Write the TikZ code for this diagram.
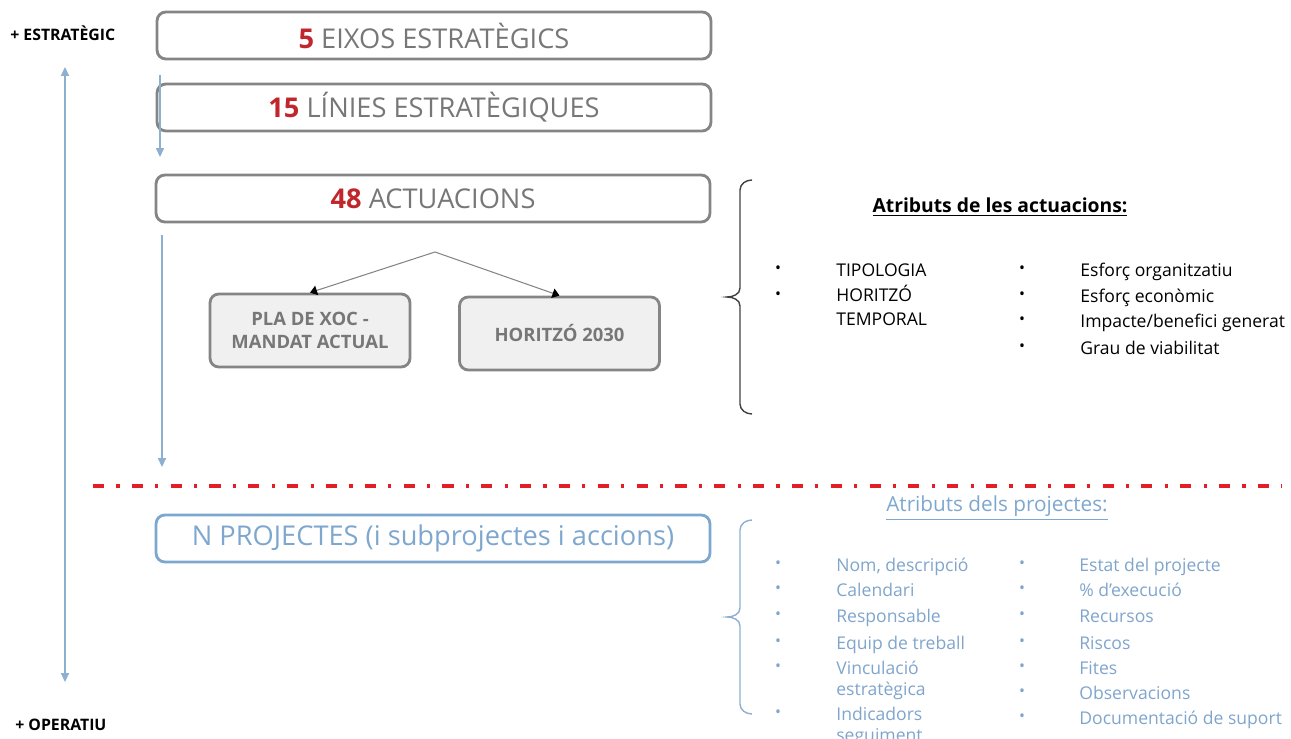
\documentclass[tikz,border=0pt]{standalone}
\usepackage{fontspec}
\setmainfont{Open Sans}
\usetikzlibrary{arrows.meta,positioning}
\definecolor{boxgray}{HTML}{858585}
\definecolor{txtgray}{HTML}{777777}
\definecolor{numred}{HTML}{C0272D}
\definecolor{dashred}{HTML}{E31E24}
\definecolor{projblue}{HTML}{7EA7CF}
\definecolor{listblue}{HTML}{7FA5CC}
\definecolor{arrblue}{HTML}{8DAFD0}
\tikzset{blueline/.style={draw=arrblue, line width=0.9pt, -{Triangle[length=5pt,width=4.5pt]}}}

\begin{document}
\begin{tikzpicture}[x=0.02cm, y=-0.02cm,
 lvl/.style={draw=boxgray, line width=1.6pt, rounded corners=5pt, minimum width=11.08cm, minimum height=0.94cm, text=txtgray, font=\fontsize{15.5}{17}\selectfont},
 sub/.style={draw=boxgray, line width=1.6pt, fill=gray!12, rounded corners=5pt, minimum width=4cm, minimum height=1.46cm, align=center, text=txtgray, font=\bfseries\fontsize{10.5}{13}\selectfont},
 attr/.style={anchor=west, inner sep=0pt, text height=1.8ex, text depth=0.4ex, font=\fontsize{10}{11}\selectfont},
 dot/.style={inner sep=0pt, font=\fontsize{9}{9}\selectfont},
 side/.style={anchor=west, inner sep=0pt, font=\bfseries\fontsize{9}{10}\selectfont}]
 \useasboundingbox (0,0) rectangle (1291,739);

 % levels
 \node[side] (est) at (10,33) {+ ESTRATÈGIC};
 \node[side] (op) at (15,725) {+ OPERATIU};
 \node[lvl] (eix) at (434,35.5) {\textcolor{numred}{\bfseries 5} EIXOS ESTRATÈGICS};
 \node[lvl] (lin) at (434,107.5) {\textcolor{numred}{\bfseries 15} LÍNIES ESTRATÈGIQUES};
 \node[lvl] (act) at (433,198.5) {\textcolor{numred}{\bfseries 48} ACTUACIONS};
 \node[sub] (pla) at (310,330.5) {PLA DE XOC -\\MANDAT ACTUAL};
 \node[sub] (hor) at (559.5,333.5) {HORITZÓ 2030};
 \node[lvl, draw=projblue, text=projblue] (np) at (433,538.5) {N PROJECTES (i subprojectes i accions)};

 % split of the actuacions
 \coordinate (split) at (435,252);
 \draw[boxgray, line width=0.6pt, -{Triangle[length=4pt,width=5.5pt]}, arrows={[black]}] (split) -- (pla.north);
 \draw[boxgray, line width=0.6pt, -{Triangle[length=4pt,width=5.5pt]}, arrows={[black]}] (split) -- (hor.north);

 % blue arrows
 \coordinate (up) at (65,67);
 \coordinate (down) at (65,682);
 \draw[blueline, {Triangle[length=5pt,width=4.5pt]}-{Triangle[length=5pt,width=4.5pt]}] (up) -- (down);
 \coordinate (s1) at (160,75);
 \coordinate (e1) at (160,157);
 \draw[blueline] (s1) -- (e1);
 \coordinate (s2) at (162,235);
 \coordinate (e2) at (162,467);
 \draw[blueline] (s2) -- (e2);

 % strategic / operational border
 \coordinate (r1) at (93,486);
 \coordinate (r2) at (1282,486);
 \draw[dashred, line width=2.2pt, dash pattern=on 6.3pt off 7pt on 1.8pt off 7pt] (r1) -- (r2);

 % braces
 \draw[black!75, line width=0.8pt] (752,180) to[out=180,in=90] (740,190) -- (740,288) to[out=-90,in=0] (727,297)
   to[out=0,in=90] (740,306) -- (740,404) to[out=-90,in=180] (752,414);
 \draw[arrblue, line width=0.8pt] (752,520) to[out=180,in=90] (740,530) -- (740,608) to[out=-90,in=0] (727,617)
   to[out=0,in=90] (740,626) -- (740,704) to[out=-90,in=180] (752,714);

 % attributes of the actuacions
 \node[font=\bfseries\fontsize{11}{12}\selectfont] (t1) at (1000,207) {\underline{Atributs de les actuacions:}};
 \node[dot] at (778,270) {\textbullet};
 \node[dot] at (778,296) {\textbullet};
 \node[attr] (a1) at (836,270) {TIPOLOGIA};
 \node[attr] (a2) at (836,295) {HORITZÓ};
 \node[attr] (a3) at (836,319) {TEMPORAL};
 \node[dot] at (1022,270) {\textbullet};
 \node[dot] at (1022,296) {\textbullet};
 \node[dot] at (1022,321) {\textbullet};
 \node[dot] at (1022,348) {\textbullet};
 \node[attr] (b1) at (1080,270) {Esforç organitzatiu};
 \node[attr] (b2) at (1080,296) {Esforç econòmic};
 \node[attr] (b3) at (1080,321) {Impacte/benefici generat};
 \node[attr] (b4) at (1080,348) {Grau de viabilitat};

 % attributes of the projectes
 \node[text=projblue, font=\fontsize{11.8}{13}\selectfont] (t2) at (997,508) {\underline{Atributs dels projectes:}};
 \begin{scope}[every node/.append style={text=listblue}]
 \node[dot] at (778,565) {\textbullet};
 \node[dot] at (778,590) {\textbullet};
 \node[dot] at (778,616) {\textbullet};
 \node[dot] at (778,643) {\textbullet};
 \node[dot] at (778,668) {\textbullet};
 \node[dot] at (778,714) {\textbullet};
 \node[attr] (c1) at (836,565) {Nom, descripció};
 \node[attr] (c2) at (836,590) {Calendari};
 \node[attr] (c3) at (836,616) {Responsable};
 \node[attr] (c4) at (836,643) {Equip de treball};
 \node[attr] (c5) at (836,668) {Vinculació};
 \node[attr] (c6) at (836,689) {estratègica};
 \node[attr] (c7) at (836,714) {Indicadors};
 \node[attr] (c8) at (836,735) {seguiment};
 \node[dot] at (1022,565) {\textbullet};
 \node[dot] at (1022,590) {\textbullet};
 \node[dot] at (1022,616) {\textbullet};
 \node[dot] at (1022,643) {\textbullet};
 \node[dot] at (1022,668) {\textbullet};
 \node[dot] at (1022,693) {\textbullet};
 \node[dot] at (1022,718) {\textbullet};
 \node[attr] (d1) at (1079,565) {Estat del projecte};
 \node[attr] (d2) at (1079,590) {\% d’execució};
 \node[attr] (d3) at (1079,616) {Recursos};
 \node[attr] (d4) at (1079,643) {Riscos};
 \node[attr] (d5) at (1079,668) {Fites};
 \node[attr] (d6) at (1079,693) {Observacions};
 \node[attr] (d7) at (1079,718) {Documentació de suport};
 \end{scope}
\end{tikzpicture}
\end{document}
